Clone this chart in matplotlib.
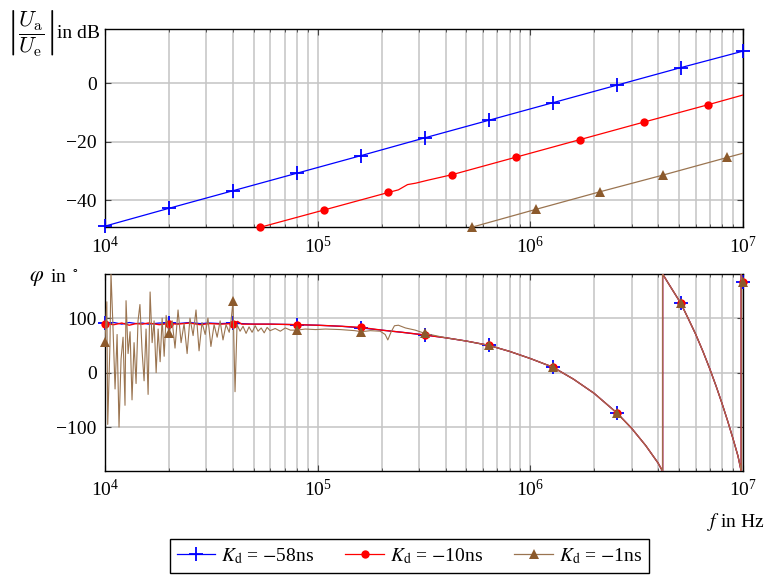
import numpy as np
import matplotlib
matplotlib.use('Agg')
import matplotlib.pyplot as plt
from matplotlib.lines import Line2D
from matplotlib.ticker import LogLocator, NullFormatter, FixedLocator

plt.rcParams['font.family'] = ['Liberation Serif', 'DejaVu Serif']
plt.rcParams['mathtext.fontset'] = 'stix'
plt.rcParams['font.size'] = 13
plt.rcParams['axes.unicode_minus'] = True

# ---------------- data ----------------
labels = [r'$K_\mathrm{d}$ = $-$58ns', r'$K_\mathrm{d}$ = $-$10ns', r'$K_\mathrm{d}$ = $-$1ns']

# magnitude |Ua/Ue| in dB
mag_f_blue = [1e4, 2e4, 4e4, 8e4, 1.6e5, 3.2e5, 6.4e5, 1.28e6, 2.56e6, 5.12e6, 1e7]
mag_blue = [-48.8, -42.7, -36.7, -30.7, -24.7, -18.6, -12.6, -6.6, -0.6, 5.4, 11.0]
mag_blue_marks = [1e4, 2e4, 4e4, 8e4, 1.6e5, 3.2e5, 6.4e5, 1.28e6, 2.56e6, 5.12e6, 1e7]

mag_f_red = [5.37e4, 1.07e5, 2.15e5, 2.4e5, 2.65e5, 2.9e5, 3.3e5, 4.3e5, 8.6e5, 1.72e6, 3.44e6, 6.87e6, 1e7]
mag_red = [-49.2, -43.3, -37.3, -36.4, -34.6, -34.1, -33.1, -31.2, -25.2, -19.2, -13.2, -7.3, -4.0]
mag_red_marks = [5.37e4, 1.07e5, 2.15e5, 4.3e5, 8.6e5, 1.72e6, 3.44e6, 6.87e6]

mag_f_brown = [5.3e5, 1.06e6, 2.12e6, 4.24e6, 8.48e6, 1e7]
mag_brown = [-49.2, -43.1, -37.1, -31.3, -25.3, -23.9]
mag_brown_marks = [5.3e5, 1.06e6, 2.12e6, 4.24e6, 8.48e6]

# phase in degrees
phase_marks = [1e4, 2e4, 4e4, 8e4, 1.6e5, 3.2e5, 6.4e5, 1.28e6, 2.56e6, 5.12e6, 1e7]

# common high-frequency part (all three curves coincide)
hf_f = [4.0e5, 5.0e5, 6.4e5, 8.0e5, 1.0e6, 1.28e6, 1.6e6, 2.0e6, 2.56e6, 3.0e6, 3.5e6,
        4.0e6, 4.2e6, 4.2e6, 4.5e6, 5.12e6, 5.5e6, 6.0e6, 6.5e6, 7.0e6, 7.5e6, 8.0e6,
        8.5e6, 9.0e6, 9.5e6, 9.84e6, 9.84e6, 1e7]
hf_phase = [64, 58, 50, 39, 26, 10, -12, -38, -74, -102, -134,
            -166, -181, 181, 162, 127, 102, 71, 39, 7, -25, -57,
            -89, -121, -153, -181, 181, 167]

lf_f = [1e4, 1.1e4, 1.2e4, 1.3e4, 1.4e4, 1.5e4, 1.6e4, 1.8e4, 2e4, 2.2e4, 2.5e4, 2.8e4,
        3.1e4, 3.5e4, 4e4, 4.2e4, 4.4e4, 5e4, 6e4, 8e4, 1e5, 1.3e5, 1.6e5, 2e5, 2.5e5, 3.2e5]
lf_blue = [91, 92, 89, 92, 90, 91, 89, 91, 91, 90, 92, 90,
           91, 90, 91, 90, 90, 89, 89, 88, 87, 85, 82, 78, 74, 69]
lf_red = [90, 88, 91, 87, 90, 89, 91, 88, 90, 89, 91, 88,
          90, 89, 90, 94, 89, 89, 89, 88, 87, 85, 83, 78, 74, 69]

lf_f_brown = [10.0e3, 10.2e3, 10.3e3, 10.55e3, 10.67e3, 10.9e3, 11.15e3, 11.4e3, 11.64e3,
              11.9e3, 12.16e3, 12.42e3, 12.56e3, 12.84e3, 13.12e3, 13.4e3, 13.7e3, 14.0e3,
              14.3e3, 14.6e3, 14.94e3, 15.27e3, 15.6e3, 15.95e3, 16.3e3, 16.66e3, 17.02e3,
              17.4e3, 17.78e3, 18.17e3, 18.57e3, 18.98e3, 19.39e3, 20.0e3, 20.7e3, 21.35e3,
              22.06e3, 22.8e3, 23.55e3, 24.34e3, 25.1e3, 25.97e3, 26.8e3, 27.7e3, 28.6e3,
              29.6e3, 30.5e3, 31.5e3, 32.6e3, 33.7e3, 34.8e3, 35.9e3, 37.1e3, 38.4e3,
              39.2e3, 40.0e3, 40.9e3, 41.8e3, 43.2e3, 44.6e3, 46.1e3, 47.6e3, 49.2e3,
              50.9e3, 52.5e3, 54.3e3, 56.1e3, 57.9e3, 59.8e3, 63.2e3, 66.8e3, 70.5e3,
              74.5e3, 80.0e3, 87.5e3, 97.8e3, 109e3, 128e3, 150e3, 160e3, 177e3, 197e3,
              208e3, 214e3, 222e3, 230e3, 240e3, 259e3, 288e3, 320e3]
lf_brown = [57, 130, -95, 50, 183, 85, -30, 70, -100,
            25, 65, -60, 132, 35, 75, -50, 55, -20,
            95, 125, 40, -15, 80, -40, 148, 55, 95,
            0, 80, 20, 100, 30, 105, 72, 95, 45,
            115, 55, 90, 35, 100, 68, 115, 40, 92,
            70, 100, 48, 88, 65, 95, 60, 88, 74,
            96, 131, -35, 88, 76, 85, 72, 84, 74,
            86, 76, 82, 73, 83, 77, 81, 76, 82,
            78, 78, 80, 79, 80, 79, 77, 75, 77, 76,
            70, 60, 75, 86, 87, 82, 78, 72]

phase_f_blue = lf_f + hf_f
phase_blue = lf_blue + hf_phase
phase_f_red = lf_f + hf_f
phase_red = lf_red + hf_phase
phase_f_brown = lf_f_brown + hf_f
phase_brown = lf_brown + hf_phase

# ---------------- style ----------------
c_blue = '#0000ff'
c_red = '#ff0000'
c_brown = '#8c5a2c'
c_brown_line = '#9a7450'
grid_c = '#c4c4c4'


def mark_idx(f, marks):
    f = np.asarray(f)
    idx = []
    for m in marks:
        hits = np.where(np.isclose(f, m, rtol=1e-6))[0]
        if len(hits):
            idx.append(int(hits[-1]) if m == f[-1] else int(hits[0]))
    return idx


fig = plt.figure(figsize=(7.72, 5.83), dpi=100)
ax1 = fig.add_axes([105 / 772, 1 - 227.3 / 583, 637.7 / 772, 198.6 / 583])
ax2 = fig.add_axes([105 / 772, 1 - 470.7 / 583, 637.7 / 772, 196.7 / 583])


def style_axes(ax):
    ax.set_xscale('log')
    ax.set_xlim(1e4, 1e7)
    ax.xaxis.set_major_locator(LogLocator(base=10, numticks=10))
    ax.xaxis.set_minor_locator(LogLocator(base=10, subs=np.arange(2, 10), numticks=20))
    ax.xaxis.set_minor_formatter(NullFormatter())
    ax.grid(True, which='major', color=grid_c, linewidth=1.1, zorder=0)
    ax.grid(True, which='minor', axis='x', color=grid_c, linewidth=1.1, zorder=0)
    ax.set_axisbelow(True)
    ax.tick_params(which='both', direction='in', top=True, right=True, color='#444444')
    ax.tick_params(which='major', length=4, width=0.8, pad=6, labelsize=14)
    ax.tick_params(which='minor', length=2.5, width=0.6)
    for s in ax.spines.values():
        s.set_linewidth(1.0)


style_axes(ax1)
style_axes(ax2)


def draw(ax, f, v, marks, color, line_color, marker, ms, mew, lw, clip=True):
    ax.plot(f, v, color=line_color, lw=lw, zorder=3, clip_on=True)
    mi = mark_idx(f, marks)
    ax.plot(np.asarray(f)[mi], np.asarray(v)[mi], ls='none', marker=marker, ms=ms,
            mew=mew, color=color, zorder=3, clip_on=clip)


# magnitude
draw(ax1, mag_f_blue, mag_blue, mag_blue_marks, c_blue, c_blue, '+', 10, 1.3, 0.9, clip=False)
draw(ax1, mag_f_red, mag_red, mag_red_marks, c_red, c_red, 'o', 6, 0, 0.9, clip=False)
draw(ax1, mag_f_brown, mag_brown, mag_brown_marks, c_brown, c_brown_line, '^', 7.5, 0, 0.9, clip=False)
ax1.set_ylim(-49.2, 18.7)
ax1.yaxis.set_major_locator(FixedLocator([-40, -20, 0]))

# phase
draw(ax2, phase_f_blue, phase_blue, phase_marks, c_blue, c_blue, '+', 10, 1.3, 0.9, clip=False)
draw(ax2, phase_f_red, phase_red, phase_marks, c_red, c_red, 'o', 6, 0, 1.0, clip=False)
draw(ax2, phase_f_brown, phase_brown, phase_marks, c_brown, c_brown_line, '^', 7.5, 0, 0.8, clip=False)
ax2.set_ylim(-180, 181)
ax2.yaxis.set_major_locator(FixedLocator([-100, 0, 100]))

# labels
fig.text(6 / 772, 1 - 33 / 583,
         r'$\left|\dfrac{U_\mathrm{a}}{U_\mathrm{e}}\right|$',
         ha='left', va='center', fontsize=16, math_fontfamily='cm')
fig.text(57 / 772, 1 - 33 / 583, 'in dB', ha='left', va='center', fontsize=14)
fig.text(29 / 772, 1 - 279 / 583, r'$\varphi$', ha='left', va='center', fontsize=16)
fig.text(50 / 772, 1 - 278 / 583, r'in $^\circ$', ha='left', va='center', fontsize=14)
fig.text(764 / 772, 1 - 522 / 583, r'$f$ in Hz', ha='right', va='center', fontsize=14)

# legend
handles = [
    Line2D([], [], color=c_blue, lw=0.9, marker='+', ms=10, mew=1.3),
    Line2D([], [], color=c_red, lw=0.9, marker='o', ms=6, mew=0),
    Line2D([], [], color=c_brown_line, lw=0.9, marker='^', ms=7.5, mew=0, mfc=c_brown),
]
leg = fig.legend(handles, labels, loc='center', bbox_to_anchor=(409.5 / 772, 1 - 556 / 583),
                 ncol=3, frameon=True, fancybox=False, edgecolor='black', framealpha=1,
                 handlelength=2.0, handletextpad=0.3, columnspacing=1.6, borderpad=0.35,
                 numpoints=1, fontsize=14)
leg.get_frame().set_linewidth(1.0)

fig.savefig('out.png', dpi=100)
